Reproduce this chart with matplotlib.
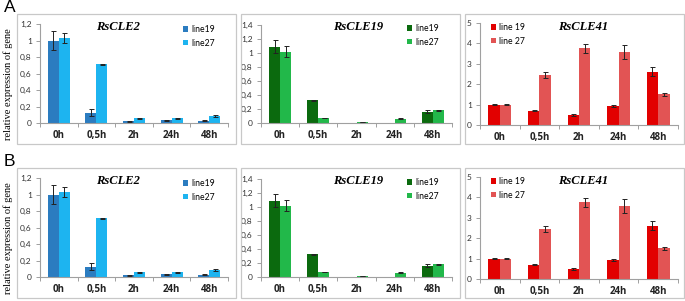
import numpy as np
import matplotlib
matplotlib.use('Agg')
import matplotlib.pyplot as plt
from matplotlib.patches import Rectangle
from matplotlib.ticker import FuncFormatter, FixedLocator

# 数据
times = ['0h', '0,5h', '2h', '24h', '48h']

cle2_l19 = [1.0, 0.125, 0.02, 0.035, 0.03]
cle2_l19_err = [0.11, 0.045, 0.005, 0.005, 0.01]
cle2_l27 = [1.03, 0.71, 0.055, 0.055, 0.085]
cle2_l27_err = [0.063, 0.01, 0.006, 0.006, 0.01]

cle19_l19 = [1.09, 0.325, 0.003, 0.0, 0.16]
cle19_l19_err = [0.09, 0.01, 0.001, 0.0, 0.02]
cle19_l27 = [1.02, 0.07, 0.015, 0.063, 0.18]
cle19_l27_err = [0.077, 0.005, 0.005, 0.006, 0.01]

cle41_l19 = [1.0, 0.70, 0.48, 0.93, 2.61]
cle41_l19_err = [0.02, 0.03, 0.05, 0.07, 0.23]
cle41_l27 = [1.0, 2.45, 3.76, 3.59, 1.5]
cle41_l27_err = [0.04, 0.13, 0.22, 0.34, 0.08]

W, H = 685, 301
fig = plt.figure(figsize=(W / 100, H / 100), dpi=100)


def box(x0, y0, x1, y1):
    # 像素坐标 -> figure 坐标
    return [x0 / W, 1 - y1 / H, (x1 - x0) / W, (y1 - y0) / H]


def comma(v, pos):
    return ('%g' % round(v, 2)).replace('.', ',')


panels = [
    dict(title='RsCLE2', a=cle2_l19, ae=cle2_l19_err, b=cle2_l27, be=cle2_l27_err,
         names=['line19', 'line27'], colors=['#2B7CC0', '#1DB4F0'],
         ymax=1.2, step=0.2, frame=(17, 14, 236, 144), ax=(40, 24, 228, 123),
         tpos=(118, 27), lpos=(183, 25)),
    dict(title='RsCLE19', a=cle19_l19, ae=cle19_l19_err, b=cle19_l27, be=cle19_l27_err,
         names=['line19', 'line27'], colors=['#0B6A0E', '#22B84A'],
         ymax=1.4, step=0.2, frame=(241, 14, 460, 144), ax=(261, 25, 452, 123),
         tpos=(358, 27), lpos=(407, 24)),
    dict(title='RsCLE41', a=cle41_l19, ae=cle41_l19_err, b=cle41_l27, be=cle41_l27_err,
         names=['line 19', 'line 27'], colors=['#E20000', '#E25454'],
         ymax=5, step=1, frame=(465, 14, 684, 144), ax=(480, 23, 678, 125),
         tpos=(583, 27), lpos=(491, 23)),
]

x = np.arange(len(times))
bw = 0.29

for r, letter in enumerate(['A', 'B']):
    dy = 154 * r
    fig.text(4 / W, 1 - (0 + dy) / H, letter, fontsize=12.5, ha='left', va='top',
             family='Liberation Sans')
    fig.text(8 / W, 1 - (84 + dy) / H, 'relative expression of gene', rotation=90,
             ha='center', va='center', fontsize=7.5, family='Liberation Serif')

    for p in panels:
        fx0, fy0, fx1, fy1 = p['frame']
        fig.add_artist(Rectangle((fx0 / W, 1 - (fy1 + dy) / H), (fx1 - fx0) / W, (fy1 - fy0) / H,
                                 transform=fig.transFigure, fill=False,
                                 edgecolor='#C8C8C8', linewidth=0.9))
        ax0, ay0, ax1, ay1 = p['ax']
        ax = fig.add_axes(box(ax0, ay0 + dy, ax1, ay1 + dy))

        ekw = dict(ecolor='#222222', elinewidth=0.7, capsize=1.8, capthick=0.7)
        h1 = ax.bar(x - bw / 2, p['a'], bw, yerr=p['ae'], color=p['colors'][0],
                    error_kw=ekw, label=p['names'][0])
        h2 = ax.bar(x + bw / 2, p['b'], bw, yerr=p['be'], color=p['colors'][1],
                    error_kw=ekw, label=p['names'][1])

        ax.set_xlim(-0.5, len(times) - 0.5)
        ax.set_ylim(0, p['ymax'])
        ax.set_yticks(np.arange(0, p['ymax'] + p['step'] / 2, p['step']))
        ax.yaxis.set_major_formatter(FuncFormatter(comma))
        ax.set_xticks(x)
        ax.set_xticklabels(times, fontsize=7, fontweight='bold', family='Open Sans')
        ax.xaxis.set_minor_locator(FixedLocator(np.arange(-0.5, len(times), 1)))
        ax.tick_params(axis='x', which='major', length=0, pad=5, colors='#222222')
        ax.tick_params(axis='x', which='minor', length=3, color='#A0A0A0', width=0.7)
        ax.tick_params(axis='y', length=3, width=0.7, color='#A0A0A0', labelsize=6,
                       labelcolor='#333333', pad=3)
        for lab in ax.get_yticklabels():
            lab.set_family('Lato')

        for s in ['top', 'right']:
            ax.spines[s].set_visible(False)
        for s in ['left', 'bottom']:
            ax.spines[s].set_color('#A0A0A0')
            ax.spines[s].set_linewidth(0.8)

        tx, ty = p['tpos']
        fig.text(tx / W, 1 - (ty + dy) / H, p['title'], ha='center', va='center',
                 fontsize=9, fontweight='bold', fontstyle='italic', family='Liberation Serif')

        lx, ly = p['lpos']
        ax.legend(handles=[h1, h2], loc='upper left',
                  bbox_to_anchor=(lx / W, 1 - (ly + dy) / H), bbox_transform=fig.transFigure,
                  frameon=False, handlelength=0.55, handleheight=0.55,
                  handletextpad=0.4, labelspacing=0.55, borderpad=0, borderaxespad=0,
                  prop={'family': 'Lato', 'size': 6.2})

fig.savefig('out.png', dpi=100)
